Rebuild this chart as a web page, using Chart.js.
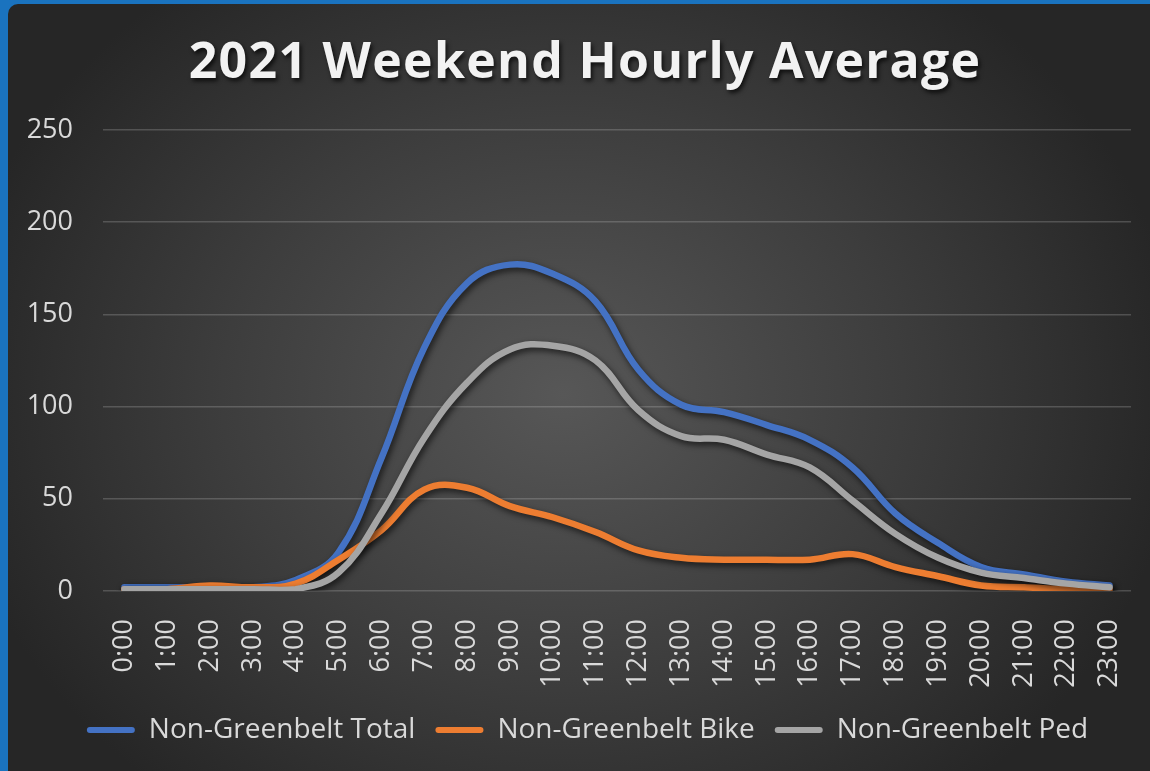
<!DOCTYPE html>
<html>
<head>
<meta charset="utf-8">
<script src="https://cdn.jsdelivr.net/npm/chart.js"></script>
<style>
    html, body {
        margin: 0;
        padding: 0;
        width: 1150px;
        height: 771px;
        overflow: hidden;
        background: #1a73bf;
    }
    .panel {
        position: absolute;
        left: 8px;
        top: 4px;
        width: 1160px;
        height: 780px;
        border-radius: 10px;
        background: radial-gradient(ellipse 620px 520px at 555px 390px, #575757 0%, #3d3d3d 55%, #262626 100%);
        background-color: #262626;
    }
    .title {
        position: absolute;
        left: 0;
        top: 34px;
        width: 1150px;
        padding-left: 20px;
        box-sizing: border-box;
        text-align: center;
        font-family: "Open Sans", sans-serif;
        font-weight: bold;
        font-size: 50px;
        line-height: 50px;
        letter-spacing: 1.3px;
        color: #f2f2f2;
        text-shadow: 2px 3px 4px rgba(0, 0, 0, 0.7);
    }
    canvas {
        position: absolute;
        left: 0;
        top: 0;
    }
</style>
</head>
<body>
<div class="panel"></div>
<div class="title">2021 Weekend Hourly Average</div>
<canvas id="chart" width="1150" height="771"></canvas>
<script>
const hours = ["0:00", "1:00", "2:00", "3:00", "4:00", "5:00", "6:00", "7:00", "8:00", "9:00", "10:00", "11:00",
    "12:00", "13:00", "14:00", "15:00", "16:00", "17:00", "18:00", "19:00", "20:00", "21:00", "22:00", "23:00"];

const totalValues = [2, 2, 2, 2, 6, 21, 72, 132, 167, 177, 172, 157, 120, 101, 97, 90, 82, 67, 42, 26, 13, 9, 5, 3];
const bikeValues = [1, 1, 3, 2, 4, 17, 33, 55, 56, 46, 40, 32, 22, 18, 17, 17, 17, 20, 13, 8, 3, 2, 1, 1];
const pedValues = [1, 1, 1, 1, 1, 10, 42, 83, 113, 131, 133, 125, 98, 84, 82, 74, 67, 49, 31, 18, 10, 7, 4, 2];

const yTicks = [0, 50, 100, 150, 200, 250];

// soft drop shadow under the lines, like the office chart style
const lineShadow = {
    id: 'lineShadow',
    afterLayout(chart) {
        // legend sits slightly right of centre in the original
        chart.legend.left += 22;
        chart.legend.right += 22;
    },
    beforeDatasetsDraw(chart) {
        const ctx = chart.ctx;
        ctx.save();
        ctx.shadowColor = 'rgba(0, 0, 0, 0.65)';
        ctx.shadowBlur = 6;
        ctx.shadowOffsetX = 2;
        ctx.shadowOffsetY = 3;
    },
    afterDatasetsDraw(chart) {
        chart.ctx.restore();
    }
};

const series = (label, data, color, order) => ({
    label: label,
    data: data,
    borderColor: color,
    backgroundColor: color,
    borderWidth: 6.5,
    borderCapStyle: 'round',
    borderJoinStyle: 'round',
    pointRadius: 0,
    tension: 0.4,
    fill: false,
    order: order
});

new Chart(document.getElementById('chart').getContext('2d'), {
    type: 'line',
    data: {
        labels: hours,
        datasets: [
            series('Non-Greenbelt Total', totalValues, '#4472c4', 2),
            series('Non-Greenbelt Bike', bikeValues, '#ed7d31', 1),
            series('Non-Greenbelt Ped', pedValues, '#a5a5a5', 0)
        ]
    },
    options: {
        responsive: false,
        animation: false,
        layout: {
            padding: { top: 130, left: 0, right: 19, bottom: 17 }
        },
        plugins: {
            legend: {
                position: 'bottom',
                labels: {
                    color: '#d9d9d9',
                    font: { family: 'Open Sans', size: 28 },
                    boxWidth: 48,
                    boxHeight: 6,
                    useBorderRadius: true,
                    borderRadius: 3,
                    padding: 20,
                    sort: (a, b) => a.datasetIndex - b.datasetIndex,
                    generateLabels(chart) {
                        return chart.data.datasets.map((ds, i) => ({
                            text: ds.label,
                            fillStyle: ds.borderColor,
                            strokeStyle: ds.borderColor,
                            lineWidth: 0,
                            fontColor: '#d9d9d9',
                            datasetIndex: i,
                            borderRadius: 3
                        }));
                    }
                }
            },
            tooltip: { enabled: false }
        },
        scales: {
            x: {
                offset: true,
                grid: { display: false },
                border: { display: false },
                ticks: {
                    color: '#d9d9d9',
                    font: { family: 'Open Sans', size: 27 },
                    minRotation: 90,
                    maxRotation: 90,
                    autoSkip: false,
                    padding: 20
                },
                afterFit(scale) {
                    scale.height = 105;
                    scale.paddingLeft = 0;
                    scale.paddingRight = 0;
                }
            },
            y: {
                min: 0,
                max: 250,
                afterBuildTicks(scale) { scale.ticks = yTicks.map(v => ({ value: v })); },
                grid: {
                    color: 'rgba(217, 217, 217, 0.22)',
                    lineWidth: 1.5,
                    drawTicks: false
                },
                border: { display: false },
                ticks: {
                    color: '#d9d9d9',
                    font: { family: 'Open Sans', size: 27 },
                    padding: 30
                },
                afterFit(scale) {
                    scale.width = 103;
                    scale.paddingTop = 0;
                    scale.paddingBottom = 0;
                }
            }
        }
    },
    plugins: [lineShadow]
});
</script>
</body>
</html>
